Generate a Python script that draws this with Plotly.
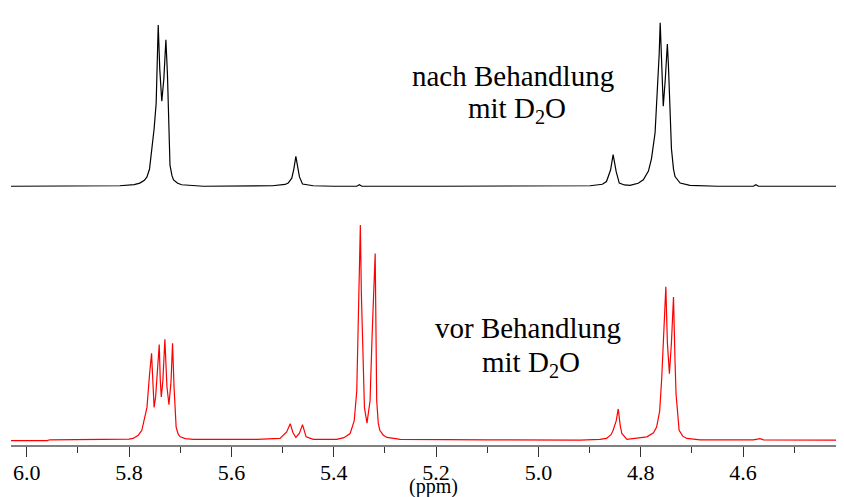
import plotly.graph_objects as go

# ---- data (ppm, intensity in arbitrary units) ----
black_ppm = [6.031, 5.935, 5.860, 5.818, 5.790, 5.779, 5.770, 5.765, 5.760, 5.756,
             5.751, 5.747, 5.745, 5.743, 5.740, 5.736, 5.732, 5.728, 5.725, 5.723,
             5.720, 5.716, 5.713, 5.705, 5.697, 5.655, 5.557, 5.520, 5.495, 5.489,
             5.482, 5.478, 5.474, 5.470, 5.467, 5.461, 5.450, 5.440, 5.400, 5.355,
             5.350, 5.345, 5.200, 5.050, 4.950, 4.899, 4.875, 4.867, 4.859, 4.854,
             4.848, 4.842, 4.832, 4.821, 4.805, 4.795, 4.785, 4.779, 4.772, 4.767,
             4.764, 4.762, 4.759, 4.756, 4.752, 4.748, 4.746, 4.744, 4.740, 4.736,
             4.733, 4.723, 4.712, 4.704, 4.650, 4.580, 4.575, 4.570, 4.403]
black_int = [0.5, 1.0, 1.5, 1.0, 2.2, 3.7, 6.5, 10, 18, 35,
             59, 85, 118, 164.7, 120, 87, 110, 149.7, 115, 82,
             22, 11, 7, 3.5, 2, 0.5, 0.8, 1.0, 2.3, 3.7,
             8.7, 18, 31, 18, 10, 2.7, 1.5, 1.0, 0.5, 0.5,
             2.0, 0.5, 0.5, 0.8, 0.5, 1.0, 2.5, 5.3, 17, 32.7,
             15.3, 3.7, 1.8, 1.3, 3.5, 7, 16, 28.7, 55, 98.7,
             135, 167, 120, 82, 110, 145.3, 125, 98.7, 38.7, 18,
             10.3, 3.7, 2.0, 1.3, 0.5, 0.5, 2.0, 0.5, 0.5]

red_ppm = [6.031, 5.960, 5.955, 5.900, 5.850, 5.818, 5.800, 5.792, 5.782, 5.775,
           5.765, 5.760, 5.756, 5.753, 5.751, 5.748, 5.741, 5.739, 5.737, 5.734,
           5.730, 5.726, 5.722, 5.718, 5.715, 5.712, 5.708, 5.704, 5.700, 5.690,
           5.674, 5.550, 5.505, 5.492, 5.485, 5.480, 5.474, 5.467, 5.461, 5.454,
           5.440, 5.394, 5.380, 5.368, 5.360, 5.355, 5.351, 5.348, 5.346, 5.344,
           5.340, 5.335, 5.329, 5.325, 5.319, 5.316, 5.313, 5.310, 5.303, 5.296,
           5.270, 5.100, 4.950, 4.919, 4.880, 4.867, 4.858, 4.854, 4.848, 4.844,
           4.840, 4.837, 4.827, 4.788, 4.775, 4.769, 4.763, 4.759, 4.755, 4.751,
           4.748, 4.744, 4.740, 4.736, 4.733, 4.731, 4.725, 4.718, 4.710, 4.684,
           4.580, 4.567, 4.560, 4.403]
red_int = [0.0, 0.0, 0.8, 0.8, 1.0, 0.8, 1.5, 2.2, 5.5, 10.5,
           33.8, 67, 88.8, 55, 33.8, 45, 97.8, 62, 44.5, 60,
           103.2, 55, 36.5, 60, 99.2, 53.8, 13.8, 6.5, 3.8, 2.0,
           1.2, 1.2, 2.2, 8.8, 17.2, 8.5, 3.2, 7.5, 16.2, 3.8,
           1.2, 1.2, 3.0, 7.2, 20, 50.5, 140.5, 219.5, 150, 107,
           33.8, 17.8, 40.5, 107, 190.5, 40.5, 18, 10.5, 5.5, 3.2,
           1.2, 0.8, 0.5, 0.5, 1.2, 2.2, 6, 10.5, 20, 32.2,
           15, 7.2, 1.2, 3.8, 8, 13.8, 30, 63.8, 110, 156.5,
           100, 68.2, 100, 146.2, 80, 47.2, 10.5, 4.5, 2.2, 0.8,
           0.8, 2.0, 0.8, 0.5]

tick_vals = [6.0, 5.8, 5.6, 5.4, 5.2, 5.0, 4.8, 4.6]
tick_text = ["6.0", "5.8", "5.6", "5.4", "5.2", "5.0", "4.8", "4.6"]
minor_vals = [5.9, 5.7, 5.5, 5.3, 5.1, 4.9, 4.7, 4.5]

label_top = ["nach Behandlung", "mit D<sub>2</sub>O"]
label_bottom = ["vor Behandlung", "mit D<sub>2</sub>O"]
x_title = "(ppm)"

# ---- layout geometry (page body adds an 8px margin) ----
OFF = 8
W, H = 844 - OFF, 497 - OFF
ML, MR, MT, MB = 11 - OFF, 0, 0, 52
PW, PH = W - ML - MR, H - MT - MB

def px(x):
    return (x - OFF - ML) / PW

def py(y):
    return (H - MB - (y - OFF)) / PH

SERIF = "Liberation Serif"

fig = go.Figure()
fig.add_trace(go.Scatter(x=red_ppm, y=red_int, mode="lines",
                         line=dict(color="#ff0000", width=1.2),
                         yaxis="y", showlegend=False, hoverinfo="skip"))
fig.add_trace(go.Scatter(x=black_ppm, y=black_int, mode="lines",
                         line=dict(color="#000000", width=1.2),
                         yaxis="y2", showlegend=False, hoverinfo="skip"))

annotations = []
def add_text(t, xc, yc, size):
    annotations.append(dict(text=t, x=px(xc), y=py(yc), xref="paper", yref="paper",
                            xanchor="center", yanchor="middle", showarrow=False,
                            font=dict(family=SERIF, size=size, color="black")))

add_text(label_top[0], 512.5, 76, 29)
add_text(label_top[1], 516.7, 110, 29)
add_text(label_bottom[0], 527.5, 328, 29)
add_text(label_bottom[1], 531, 364, 29)
add_text(x_title, 434, 487, 20)

fig.update_layout(
    width=W, height=H,
    margin=dict(l=ML, r=MR, t=MT, b=MB),
    paper_bgcolor="white", plot_bgcolor="white",
    font=dict(family=SERIF),
    xaxis=dict(range=[6.0307, 4.4028], showline=True, linecolor="#808080", linewidth=2,
               ticks="outside", ticklen=10, tickwidth=1.3, tickcolor="#333333",
               tickvals=tick_vals, ticktext=tick_text, ticklabelstandoff=-3,
               tickfont=dict(family=SERIF, size=22, color="black"),
               minor=dict(tickvals=minor_vals, ticks="outside", ticklen=6,
                          tickwidth=1.3, tickcolor="#333333"),
               showgrid=False, zeroline=False),
    yaxis=dict(range=[-4.5, 440.5], visible=False, showgrid=False, zeroline=False),
    yaxis2=dict(range=[-263, 182], overlaying="y", visible=False,
                showgrid=False, zeroline=False),
    annotations=annotations,
)

fig.write_html("out.html")
